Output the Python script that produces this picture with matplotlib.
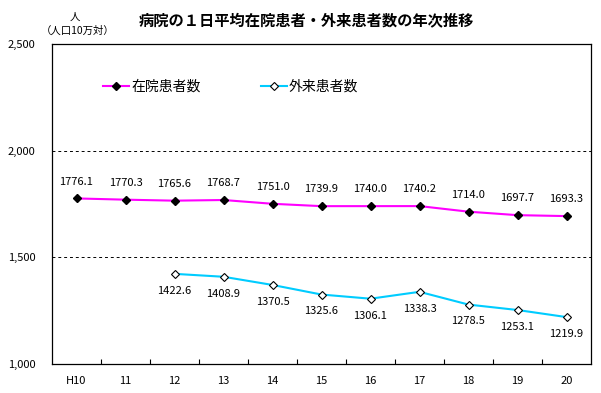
import matplotlib
matplotlib.use("Agg")
import matplotlib.pyplot as plt
from matplotlib.ticker import FuncFormatter

plt.rcParams['font.family'] = ['Noto Sans CJK JP', 'DejaVu Sans']

years = ["H10", "11", "12", "13", "14", "15", "16", "17", "18", "19", "20"]
inpatients = [1776.1, 1770.3, 1765.6, 1768.7, 1751.0, 1739.9, 1740.0, 1740.2, 1714.0, 1697.7, 1693.3]
outpatients = [None, None, 1422.6, 1408.9, 1370.5, 1325.6, 1306.1, 1338.3, 1278.5, 1253.1, 1219.9]
label_in = "在院患者数"
label_out = "外来患者数"
title = "病院の１日平均在院患者・外来患者数の年次推移"

W, H = 601, 393
fig = plt.figure(figsize=(W / 100, H / 100), dpi=100)
L, R, T, B = 52, 591, 44, 364
ax = fig.add_axes([L / W, (H - B) / H, (R - L) / W, (B - T) / H])

x = list(range(len(years)))
ax.plot(x, inpatients, color="#FF00FF", lw=1.5, marker="D", ms=4,
        mfc="black", mec="black", label=label_in, zorder=3)
xo = [i for i, v in zip(x, outpatients) if v is not None]
yo = [v for v in outpatients if v is not None]
ax.plot(xo, yo, color="#00CCFF", lw=1.5, marker="D", ms=4.5,
        mfc="white", mec="black", mew=0.8, label=label_out, zorder=3)

for i, v in zip(x, inpatients):
    ax.annotate(f"{v:.1f}", (i, v), xytext=(0, 8.5), textcoords="offset points",
                ha="center", va="bottom", fontsize=8)
for i, v in zip(xo, yo):
    ax.annotate(f"{v:.1f}", (i, v), xytext=(0, -8.5), textcoords="offset points",
                ha="center", va="top", fontsize=8)

ax.set_xlim(-0.5, len(years) - 0.5)
ax.set_ylim(1000, 2500)
ax.set_yticks([1000, 1500, 2000, 2500])
ax.yaxis.set_major_formatter(FuncFormatter(lambda v, p: f"{int(v):,}"))
ax.tick_params(axis="y", length=0, pad=12, labelsize=8)
ax.set_xticks(x)
ax.set_xticklabels(years, fontsize=8)
ax.set_xticks([i + 0.5 for i in x[:-1]], minor=True)
ax.tick_params(axis="x", which="major", length=0, pad=9)
ax.tick_params(axis="x", which="minor", direction="in", length=3.5, width=0.8)
for yv in [1500, 2000]:
    ax.axhline(yv, color="black", lw=0.7, ls=(0, (3, 3)), zorder=1)
for s in ax.spines.values():
    s.set_linewidth(0.9)

leg = ax.legend(loc="center left", bbox_to_anchor=((103 - L) / (R - L), (B - 87) / (B - T)),
                ncol=2, frameon=False, fontsize=10, handlelength=1.9, handletextpad=0.15,
                columnspacing=4.3, borderaxespad=0, borderpad=0, markerscale=0.9)

fig.text(306 / W, 1 - 20 / H, title, ha="center", va="center", fontsize=11, fontweight="bold")
fig.text(75 / W, 1 - 17 / H, "人", ha="center", va="center", fontsize=7.5)
fig.text(78 / W, 1 - 31 / H, "（人口10万対）", ha="center", va="center", fontsize=7.5)

fig.savefig("out.png", dpi=100)
